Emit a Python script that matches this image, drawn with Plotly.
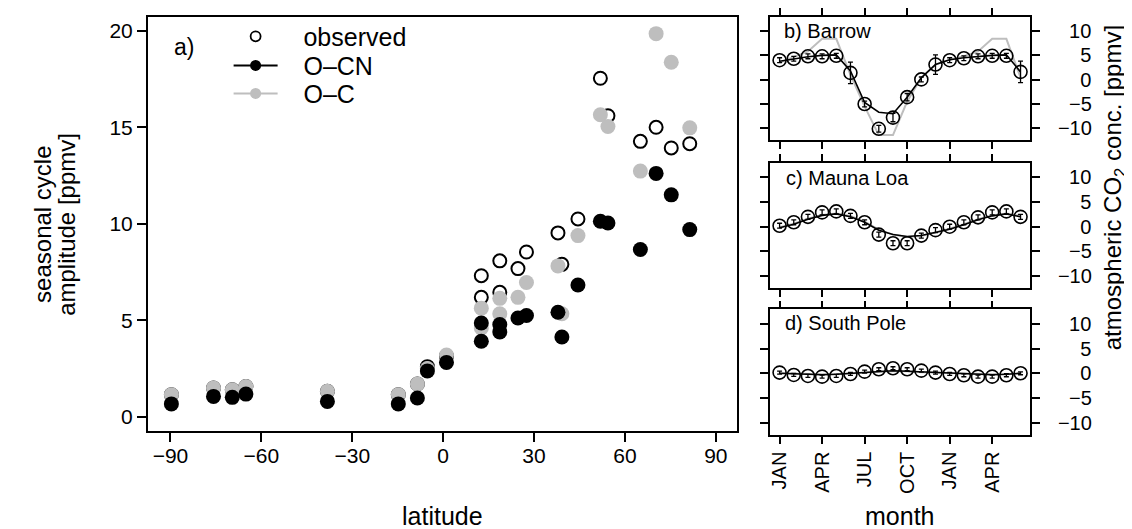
import plotly.graph_objects as go

# ---------------- data: panel a) ----------------
latitude = [-89.7, -75.8, -69.6, -65.1, -38.2, -14.8, -8.5, -5.2, 1.1,
            12.6, 12.6, 18.7, 18.7, 24.7, 27.5, 37.9, 39.2, 44.5,
            51.9, 54.4, 65.1, 70.3, 75.3, 81.4]
amp_observed = [1.15, 1.49, 1.40, 1.57, 1.32, 1.15, 1.70, 2.60, 3.15,
                7.31, 6.19, 8.08, 6.45, 7.68, 8.54, 9.53, 7.90, 10.25,
                17.54, 15.60, 14.27, 15.00, 13.93, 14.15]
amp_OC = [1.15, 1.49, 1.40, 1.57, 1.32, 1.15, 1.70, 2.50, 3.20,
          5.63, 4.60, 6.14, 5.34, 6.19, 6.96, 7.82, 5.34, 9.39,
          15.65, 15.04, 12.73, 19.85, 18.37, 14.97]
amp_OCN = [0.67, 1.06, 1.01, 1.18, 0.80, 0.67, 0.98, 2.38, 2.82,
           4.86, 3.92, 4.78, 4.40, 5.12, 5.25, 5.42, 4.14, 6.83,
           10.13, 10.04, 8.67, 12.61, 11.50, 9.70]
lat_ticks = [-90, -60, -30, 0, 30, 60, 90]
lat_ticktext = ["\u221290", "\u221260", "\u221230", "0", "30", "60", "90"]
amp_ticks = [0, 5, 10, 15, 20]

# ---------------- data: panels b)-d) ----------------
month_index = list(range(18))
month_ticks = [0, 3, 6, 9, 12, 15]
month_ticktext = ["JAN", "APR", "JUL", "OCT", "JAN", "APR"]
conc_ticks = [-10, -5, 0, 5, 10]
conc_ticktext = ["\u221210", "\u2007\u22125", "\u2007\u20070", "\u2007\u20075", "\u200710"]

barrow_obs = [4.0, 4.3, 4.8, 4.8, 4.9, 1.4, -5.0, -10.1, -7.8, -3.6, 0.05, 3.1,
              4.0, 4.4, 4.8, 4.9, 4.9, 1.6]
barrow_err = [0.5, 0.5, 0.5, 0.5, 0.5, 2.2, 0.6, 0.7, 0.85, 0.75, 0.5, 2.0,
              0.5, 0.5, 0.5, 0.5, 0.5, 2.2]
barrow_OCN = [3.8, 4.3, 4.7, 5.0, 5.1, 1.8, -4.7, -6.7, -7.0, -3.6, 0.4, 3.1,
              4.1, 4.5, 4.8, 5.0, 5.1, 1.6]
barrow_OC = [3.5, 4.6, 5.8, 8.4, 8.4, 1.0, -5.5, -11.4, -11.4, -4.5, 0.4, 3.1,
             4.1, 4.8, 5.8, 8.4, 8.4, 0.4]

mlo_obs = [0.2, 0.9, 2.0, 2.9, 3.1, 2.2, 0.9, -1.6, -3.35, -3.35, -1.8, -0.7,
           0.0, 0.9, 1.9, 2.9, 3.1, 2.0]
mlo_err = [0.5] * 18
mlo_OCN = [-0.2, 0.5, 1.5, 2.3, 2.6, 2.0, 0.9, -0.7, -1.6, -2.0, -1.8, -1.1,
           -0.5, 0.4, 1.4, 2.2, 2.6, 2.0]
mlo_OC = [-0.1, 0.6, 1.6, 2.4, 2.7, 2.2, 1.0, -0.6, -1.6, -2.1, -1.9, -1.2,
          -0.4, 0.5, 1.5, 2.3, 2.7, 2.2]

spo_obs = [0.14, -0.34, -0.54, -0.68, -0.54, -0.14, 0.34, 0.82, 1.02, 0.82, 0.54, 0.14,
           -0.14, -0.4, -0.68, -0.68, -0.4, 0.0]
spo_err = [0.3] * 18
spo_OCN = [0.0, -0.1, -0.2, -0.3, -0.2, 0.0, 0.2, 0.4, 0.5, 0.4, 0.3, 0.1,
           0.0, -0.1, -0.2, -0.3, -0.2, 0.0]
spo_OC = [0.0, -0.1, -0.2, -0.2, -0.2, 0.0, 0.2, 0.3, 0.4, 0.4, 0.2, 0.1,
          0.0, -0.1, -0.2, -0.2, -0.2, 0.0]

GREY = "#bebebe"
FONT = "Liberation Sans, Arial, Helvetica, sans-serif"
OFF = 8  # page body margin
W, H = 1132 - OFF, 529 - OFF
PAD = "\u00a0\u00a0\u00a0"


def px(x):
    return (x - OFF) / W


def py(y):
    return 1 - (y - OFF) / H


fig = go.Figure()

# panel a
fig.add_trace(go.Scatter(x=latitude, y=amp_observed, mode="markers", showlegend=False,
                         marker=dict(symbol="circle-open", size=13, color="black",
                                     line=dict(width=2, color="black")),
                         xaxis="x", yaxis="y"))
fig.add_trace(go.Scatter(x=latitude, y=amp_OC, mode="markers", showlegend=False,
                         marker=dict(symbol="circle", size=15, color=GREY, line=dict(width=0)),
                         xaxis="x", yaxis="y"))
fig.add_trace(go.Scatter(x=latitude, y=amp_OCN, mode="markers", showlegend=False,
                         marker=dict(symbol="circle", size=15, color="black", line=dict(width=0)),
                         xaxis="x", yaxis="y"))

# legend entries (one legend per row)
fig.add_trace(go.Scatter(x=[None], y=[None], mode="markers", name=PAD + "observed",
                         legend="legend",
                         marker=dict(symbol="circle-open", size=10, color="black",
                                     line=dict(width=1.8, color="black")),
                         xaxis="x", yaxis="y"))
fig.add_trace(go.Scatter(x=[None], y=[None], mode="lines+markers", name=PAD + "O\u2013CN",
                         legend="legend2",
                         line=dict(color="black", width=2),
                         marker=dict(symbol="circle", size=11, color="black"),
                         xaxis="x", yaxis="y"))
fig.add_trace(go.Scatter(x=[None], y=[None], mode="lines+markers", name=PAD + "O\u2013C",
                         legend="legend3",
                         line=dict(color=GREY, width=2),
                         marker=dict(symbol="circle", size=11, color=GREY),
                         xaxis="x", yaxis="y"))

# panels b-d
stations = [
    ("x2", "y2", barrow_obs, barrow_err, barrow_OCN, barrow_OC),
    ("x3", "y3", mlo_obs, mlo_err, mlo_OCN, mlo_OC),
    ("x4", "y4", spo_obs, spo_err, spo_OCN, spo_OC),
]
for xa, ya, obs, err, ocn, oc in stations:
    fig.add_trace(go.Scatter(x=month_index, y=oc, mode="lines", showlegend=False,
                             line=dict(color=GREY, width=2), xaxis=xa, yaxis=ya))
    fig.add_trace(go.Scatter(x=month_index, y=ocn, mode="lines", showlegend=False,
                             line=dict(color="black", width=1.6), xaxis=xa, yaxis=ya))
    fig.add_trace(go.Scatter(x=month_index, y=obs, mode="markers", showlegend=False,
                             marker=dict(symbol="circle-open", size=13, color="black",
                                         line=dict(width=1.6, color="black")),
                             error_y=dict(type="data", array=err, visible=True,
                                          color="black", thickness=1.3, width=2.5),
                             xaxis=xa, yaxis=ya))

axis_common = dict(showline=True, linecolor="black", linewidth=1.5, showgrid=False,
                   zeroline=False, ticks="outside", tickcolor="black", tickwidth=1.5)

main_x = [146, 736]
main_y = [11.7, 430]
right_x = [769.3, 1030]
panels_y = [[11.7, 136.7], [159.3, 286], [307.3, 434]]

leg_common = dict(xanchor="left", yanchor="middle", bgcolor="rgba(0,0,0,0)",
                  font=dict(size=25, family=FONT), itemsizing="trace", itemwidth=44)

layout = dict(
    width=W, height=H,
    margin=dict(l=0, r=0, t=0, b=0),
    paper_bgcolor="white", plot_bgcolor="white",
    font=dict(family=FONT, color="black"),
    showlegend=True,
    legend=dict(leg_common, x=px(227), y=py(31.8)),
    legend2=dict(leg_common, x=px(227), y=py(61.2)),
    legend3=dict(leg_common, x=px(227), y=py(89.5)),
    xaxis=dict(axis_common, domain=[px(main_x[0]), px(main_x[1])], range=[-97.5, 96.9],
               tickvals=lat_ticks, ticktext=lat_ticktext, ticklen=9, mirror=True,
               tickfont=dict(size=21, color="black", family=FONT),
               ticklabelstandoff=-4, anchor="y"),
    yaxis=dict(axis_common, domain=[py(main_y[1]), py(main_y[0])], range=[-0.73, 20.73],
               tickvals=amp_ticks, ticklen=9, mirror=True,
               tickfont=dict(size=21, color="black", family=FONT), anchor="x"),
)
for i, pyr in enumerate(panels_y):
    n = i + 2
    layout[f"xaxis{n}"] = dict(axis_common, domain=[px(right_x[0]), px(right_x[1])],
                               range=[-0.68, 17.68], tickvals=month_ticks,
                               ticktext=month_ticktext, tickangle=-90, ticklen=7,
                               tickfont=dict(size=20, color="black", family=FONT),
                               mirror="ticks", anchor=f"y{n}",
                               showticklabels=(n == 4))
    layout[f"yaxis{n}"] = dict(axis_common, domain=[py(pyr[1]), py(pyr[0])],
                               range=[-12.5, 12.95], tickvals=conc_ticks,
                               ticktext=conc_ticktext, ticklen=8, side="right",
                               tickfont=dict(size=20, color="black", family=FONT),
                               ticklabelstandoff=14,
                               mirror="ticks", anchor=f"x{n}")

annotations = [
    dict(text="a)", x=px(182), y=py(42), xref="paper", yref="paper",
         showarrow=False, font=dict(size=23), xanchor="center", yanchor="middle"),
    dict(text="b) Barrow", x=px(781), y=py(26), xref="paper", yref="paper",
         showarrow=False, font=dict(size=20), xanchor="left", yanchor="middle"),
    dict(text="c) Mauna Loa", x=px(783), y=py(175), xref="paper", yref="paper",
         showarrow=False, font=dict(size=20), xanchor="left", yanchor="middle"),
    dict(text="d) South Pole", x=px(782), y=py(321), xref="paper", yref="paper",
         showarrow=False, font=dict(size=20), xanchor="left", yanchor="middle"),
    dict(text="latitude", x=px(441), y=py(516), xref="paper", yref="paper",
         showarrow=False, font=dict(size=25), xanchor="center", yanchor="middle"),
    dict(text="month", x=px(899), y=py(516), xref="paper", yref="paper",
         showarrow=False, font=dict(size=25), xanchor="center", yanchor="middle"),
    dict(text="seasonal cycle", x=px(41), y=py(221), xref="paper", yref="paper",
         showarrow=False, font=dict(size=24), textangle=-90,
         xanchor="center", yanchor="middle"),
    dict(text="amplitude [ppmv]", x=px(65), y=py(221), xref="paper", yref="paper",
         showarrow=False, font=dict(size=24), textangle=-90,
         xanchor="center", yanchor="middle"),
    dict(text="atmospheric CO<sub>2</sub> conc. [ppmv]", x=px(1114), y=py(185),
         xref="paper", yref="paper", showarrow=False, font=dict(size=24),
         textangle=-90, xanchor="center", yanchor="middle"),
]
layout["annotations"] = annotations

fig.update_layout(**layout)
fig.write_html("out.html")
